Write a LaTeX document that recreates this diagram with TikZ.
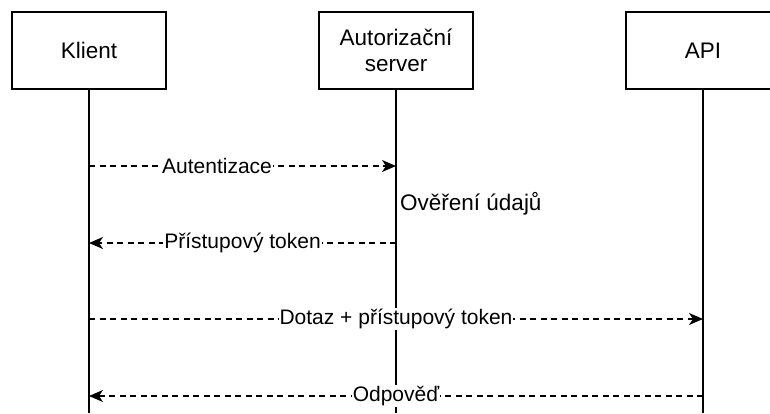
\documentclass[tikz,border=0pt]{standalone}
\usepackage{fontspec}
\setmainfont{Liberation Sans}
\usetikzlibrary{arrows.meta}
\begin{document}
\begin{tikzpicture}[x=1pt,y=-1pt,
  actor/.style={draw, line width=1.4pt, minimum width=154pt, minimum height=77pt, inner sep=0pt, align=center, font=\fontsize{22.5}{26}\selectfont},
  life/.style={line width=1.4pt},
  msg/.style={line width=1.3pt, dash pattern=on 6pt off 4.5pt, -{Stealth[length=14pt,width=12pt,inset=4pt]}},
  lbl/.style={fill=white, inner sep=1pt, font=\fontsize{21}{24}\selectfont},
  note/.style={anchor=west, inner sep=0pt, font=\fontsize{22.5}{26}\selectfont}]
\useasboundingbox (0,0) rectangle (770,413);
\begin{scope}
\clip (0,0) rectangle (770,413);
\node[actor] (kl) at (89,50.5) {Klient};
\node[actor] (as) at (396,50.5) {Autorizační\\server};
\node[actor] (api) at (703,50.5) {API};
\coordinate (klend) at (89,413);
\coordinate (asend) at (396,413);
\coordinate (apiend) at (703,413);
\draw[life] (kl.south) -- (klend);
\draw[life] (as.south) -- (asend);
\draw[life] (api.south) -- (apiend);

\coordinate (k1) at (89,166);   \coordinate (s1) at (396,166);
\coordinate (k2) at (89,243);   \coordinate (s2) at (396,243);
\coordinate (k3) at (89,319);   \coordinate (a3) at (703,319);
\coordinate (k4) at (89,396);   \coordinate (a4) at (703,396);

\draw[msg] (k1) -- node[lbl, pos=0.417] {Autentizace} (s1);
\draw[msg] (s2) -- node[lbl] {Přístupový token} (k2);
\draw[msg] (k3) -- node[lbl] {Dotaz + přístupový token} (a3);
\draw[msg] (a4) -- node[lbl] {Odpověď} (k4);

\node[note] (ov) at (400,204) {Ověření údajů};
\end{scope}
\end{tikzpicture}
\end{document}
